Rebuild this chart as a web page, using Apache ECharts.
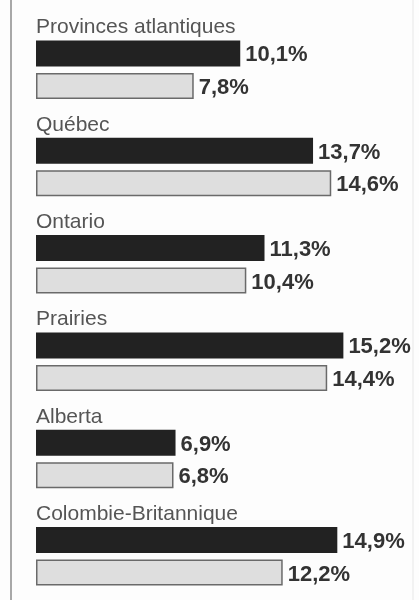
<!DOCTYPE html>
<html>
<head>
<meta charset="utf-8">
<script src="https://cdn.jsdelivr.net/npm/echarts@6/dist/echarts.min.js"></script>
<style>
html,body{margin:0;padding:0;background:#fdfdfd;}
#c{width:419px;height:600px;}
</style>
</head>
<body>
<div id="c"></div>
<script>
const categories = ["Provinces atlantiques", "Québec", "Ontario", "Prairies", "Alberta", "Colombie-Britannique"];
const darkValues = [10.1, 13.7, 11.3, 15.2, 6.9, 14.9];
const lightValues = [7.8, 14.6, 10.4, 14.4, 6.8, 12.2];

const fmt = v => v.toFixed(1).replace('.', ',') + '%';
const chart = echarts.init(document.getElementById('c'), null, {renderer: 'canvas'});
const valueLabel = {
  show: true,
  position: 'right',
  distance: 5,
  offset: [0, 2],
  formatter: p => fmt(p.value),
  fontFamily: 'Liberation Sans, Arial, sans-serif',
  fontWeight: 'bold',
  fontSize: 22,
  color: '#333'
};
chart.setOption({
  animation: false,
  backgroundColor: '#fdfdfd',
  grid: {left: 36, top: 21, width: 364, height: 584, containLabel: false, outerBoundsMode: 'none'},
  xAxis: {
    type: 'value', min: 0, max: 18,
    show: false
  },
  yAxis: {
    type: 'category',
    data: categories,
    inverse: true,
    axisLine: {show: false},
    axisTick: {show: false},
    splitLine: {show: false},
    axisLabel: {
      inside: true,
      margin: 0,
      interval: 0,
      hideOverlap: false,
      showMinLabel: true,
      showMaxLabel: true,
      align: 'left',
      verticalAlign: 'middle',
      formatter: v => '{t|' + v + '}\n{s| }',
      rich: {
        t: {fontFamily: 'Liberation Sans, Arial, sans-serif', fontSize: 21, lineHeight: 24, color: '#555'},
        s: {fontSize: 10, height: 84, lineHeight: 84}
      }
    }
  },
  series: [
    {
      name: 'dark', type: 'bar', data: darkValues,
      barWidth: 26, barGap: '25%',
      itemStyle: {color: '#222'},
      label: valueLabel
    },
    {
      name: 'light', type: 'bar', data: lightValues,
      barWidth: 26,
      itemStyle: {color: '#dedede', borderColor: '#6a6a6a', borderWidth: 1.5},
      label: valueLabel
    }
  ],
  graphic: [
    {type: 'line', shape: {x1: 11, y1: 0, x2: 11, y2: 600}, style: {stroke: '#a8a8a8', lineWidth: 2}},
    {type: 'line', shape: {x1: 413, y1: 0, x2: 413, y2: 600}, style: {stroke: '#eeeeee', lineWidth: 1.5}}
  ]
});
</script>
</body>
</html>
